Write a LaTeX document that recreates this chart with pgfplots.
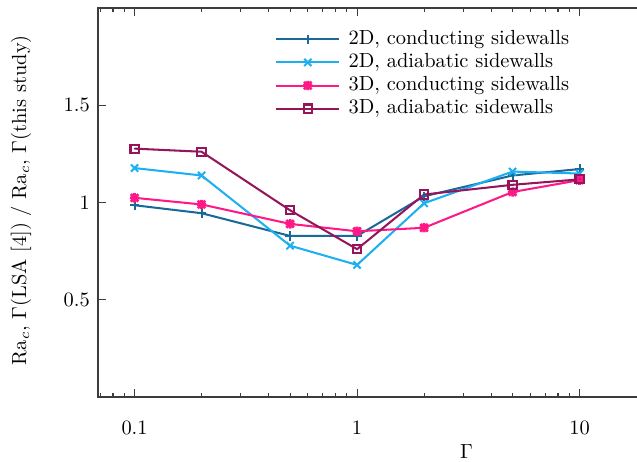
\documentclass[border=0pt]{standalone}
\usepackage{pgfplots}
\pgfplotsset{compat=1.18}
\definecolor{cA}{RGB}{25,105,155}
\definecolor{cB}{RGB}{30,175,240}
\definecolor{cC}{RGB}{255,25,135}
\definecolor{cD}{RGB}{150,20,90}
\definecolor{axgray}{RGB}{60,60,60}
\pgfdeclareplotmark{gpstar}{%
 \pgfpathmoveto{\pgfqpoint{-\pgfplotmarksize}{0pt}}\pgfpathlineto{\pgfqpoint{\pgfplotmarksize}{0pt}}%
 \pgfpathmoveto{\pgfqpoint{0pt}{-\pgfplotmarksize}}\pgfpathlineto{\pgfqpoint{0pt}{\pgfplotmarksize}}%
 \pgfpathmoveto{\pgfqpoint{-0.8\pgfplotmarksize}{-0.8\pgfplotmarksize}}\pgfpathlineto{\pgfqpoint{0.8\pgfplotmarksize}{0.8\pgfplotmarksize}}%
 \pgfpathmoveto{\pgfqpoint{-0.8\pgfplotmarksize}{0.8\pgfplotmarksize}}\pgfpathlineto{\pgfqpoint{0.8\pgfplotmarksize}{-0.8\pgfplotmarksize}}%
 \pgfusepathqstroke}
\pgfdeclareplotmark{sqdot}{%
 \pgfpathrectangle{\pgfqpoint{-\pgfplotmarksize}{-\pgfplotmarksize}}{\pgfqpoint{2\pgfplotmarksize}{2\pgfplotmarksize}}%
 \pgfusepathqstroke
 \pgfpathcircle{\pgfpointorigin}{0.35pt}\pgfusepathqfill}
\begin{document}
\begin{tikzpicture}
\useasboundingbox (0,0) rectangle (312.13pt,226.38pt);
\clip (0,0) rectangle (312.13pt,226.38pt);
\begin{axis}[
 at={(48.02pt,31.85pt)}, anchor=south west,
 scale only axis, width=301.6pt, height=190.6pt,
 xmode=log, xmin=0.0685, xmax=40, ymin=0, ymax=2,
 xtick={0.1,1,10}, xticklabels={0.1,1,10},
 minor xtick={0.07,0.08,0.09,0.2,0.3,0.4,0.5,0.6,0.7,0.8,0.9,2,3,4,5,6,7,8,9,20,30},
 ytick={0.5,1,1.5}, yticklabels={0.5,1,1.5},
 major tick length=4pt, minor tick length=2pt,
 tick style={axgray, line width=0.5pt},
 axis line style={axgray, line width=0.6pt},
 xticklabel style={yshift=-8.3pt},
 yticklabel style={xshift=-0.5pt},
 xlabel={$\Gamma$},
 xlabel style={at={(axis description cs:0.5988,0)}, anchor=north, yshift=-19.8pt},
 ylabel={Ra$_c$, $\Gamma$(LSA [4]) / Ra$_c$, $\Gamma$(this study)},
 ylabel style={at={(axis description cs:-0.125,0.506)}, anchor=center},
 legend image code/.code={\draw[mark repeat=2,mark phase=2] plot coordinates {(0pt,0pt) (15.5pt,0pt) (31pt,0pt)};},
 legend style={at={(axis description cs:0.2871,0.95)}, anchor=north west, draw=none, fill=none,
   inner sep=0pt, row sep=0pt, column sep=3pt,
   nodes={inner sep=1pt, text height=7.2pt, text depth=2.1pt}},
 legend cell align=left,
 every axis plot/.append style={line width=1pt},
]
\addplot[color=cA, mark=+, mark size=2.3pt, mark options={solid}] coordinates {
 (0.1,0.986) (0.2,0.945) (0.5,0.828) (1,0.828) (2,1.032) (5,1.139) (10,1.172)};
\addlegendentry{2D, conducting sidewalls}
\addplot[color=cB, mark=x, mark size=2.5pt, mark options={solid}] coordinates {
 (0.1,1.177) (0.2,1.139) (0.5,0.778) (1,0.679) (2,0.996) (5,1.159) (10,1.149)};
\addlegendentry{2D, adiabatic sidewalls}
\addplot[color=cC, mark=gpstar, mark size=2.3pt, mark options={solid, line width=1.3pt}] coordinates {
 (0.1,1.024) (0.2,0.990) (0.5,0.890) (1,0.852) (2,0.870) (5,1.054) (10,1.115)};
\addlegendentry{3D, conducting sidewalls}
\addplot[color=cD, mark=sqdot, mark size=2pt, mark options={solid}] coordinates {
 (0.1,1.277) (0.2,1.261) (0.5,0.960) (1,0.760) (2,1.041) (5,1.091) (10,1.119)};
\addlegendentry{3D, adiabatic sidewalls}
\end{axis}
\end{tikzpicture}
\end{document}
